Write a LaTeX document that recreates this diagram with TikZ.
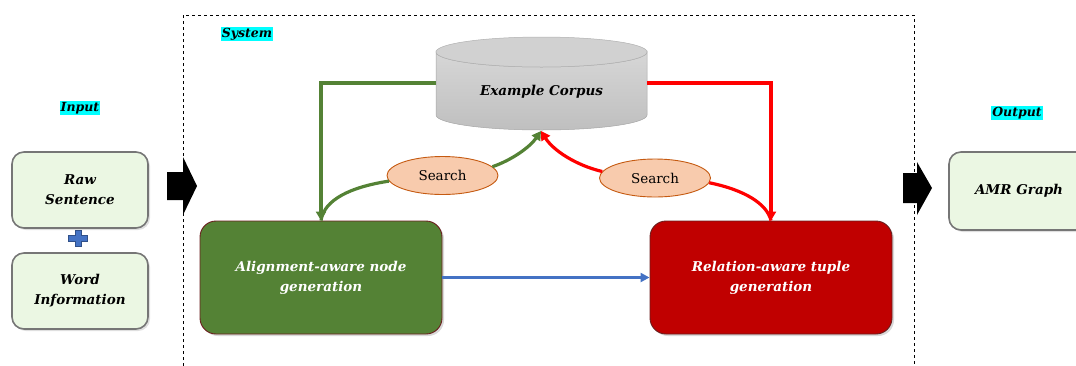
\documentclass[tikz,border=0pt]{standalone}
\usepackage{fontspec}
\setmainfont{DejaVu Serif}
\usetikzlibrary{shadows,arrows.meta,shapes.geometric}
\definecolor{inbox}{HTML}{EBF7E3}
\definecolor{inedge}{HTML}{767676}
\definecolor{ggreen}{HTML}{548235}
\definecolor{rred}{HTML}{C00000}
\definecolor{lred}{HTML}{FF0000}
\definecolor{lblue}{HTML}{4472C4}
\definecolor{sfill}{HTML}{F8CBAD}
\definecolor{sedge}{HTML}{C55A11}
\definecolor{boxedge}{HTML}{6B1F1F}
\definecolor{cyanbg}{HTML}{00FFFF}
\tikzset{
  iobox/.style={draw=inedge, line width=1.6pt, fill=inbox, rounded corners=12pt,
    minimum width=136pt, minimum height=76pt, align=center,
    font=\bfseries\itshape\fontsize{13.5}{20}\selectfont,
    drop shadow={shadow xshift=2pt, shadow yshift=-2pt, opacity=0.25}},
  genbox/.style={draw=boxedge, line width=0.9pt, rounded corners=16pt,
    minimum width=242pt, minimum height=113pt, align=center, text=white,
    font=\bfseries\itshape\fontsize{13.5}{20}\selectfont,
    drop shadow={shadow xshift=2pt, shadow yshift=-2pt, opacity=0.3}},
  lbl/.style={fill=cyanbg, inner sep=1pt, font=\bfseries\itshape\fontsize{12.5}{15}\selectfont},
  search/.style={ellipse, draw=sedge, line width=0.9pt, fill=sfill, minimum width=111pt,
    minimum height=38pt, inner sep=0pt, font=\fontsize{13.5}{16}\selectfont},
  garrow/.style={draw=ggreen, line width=3.2pt, -{Triangle[length=9pt,width=10pt]}},
  gline/.style={draw=ggreen, line width=3.2pt},
  rarrow/.style={draw=lred, line width=3.2pt, -{Triangle[length=9pt,width=10pt]}},
  rline/.style={draw=lred, line width=3.2pt},
  barrow/.style={draw=lblue, line width=2.6pt, -{Triangle[length=9pt,width=9pt]}},
  bigarrow/.style={fill=black},
}
\begin{document}
\begin{tikzpicture}[x=1pt,y=-1pt]
\useasboundingbox (0,0) rectangle (1076,365);

% system dashed frame
\draw[dashed, line width=1pt] (183,366) -- (183,15) -- (914,15) -- (914,366);

% labels
\node[lbl] (syslbl) at (247,34) {System};
\node[lbl] (inlbl) at (80,108) {Input};
\node[lbl] (outlbl) at (1017,113) {Output};

% input boxes
\node[iobox] (raw) at (80,190) {Raw\\Sentence};
\node[iobox] (word) at (80,291) {Word\\Information};
\fill[lblue, draw=lblue!70!black, line width=0.4pt]
  (75,230) -- (81,230) -- (81,235) -- (87,235) -- (87,241) -- (81,241) -- (81,246)
  -- (75,246) -- (75,241) -- (68,241) -- (68,235) -- (75,235) -- cycle;

% output box
\node[iobox, minimum width=140pt, minimum height=78pt] (amr) at (1019,191) {AMR Graph};

% big black arrows
\fill[bigarrow] (167,172) -- (183,172) -- (183,157) -- (197,186) -- (183,215)
  -- (183,200) -- (167,200) -- cycle;
\fill[bigarrow] (903,173) -- (917,173) -- (917,162) -- (932,188) -- (917,215)
  -- (917,203) -- (903,203) -- cycle;

% cylinder (example corpus)
\shade[top color=gray!32, bottom color=gray!50, draw=gray!70, line width=0.5pt]
  (436,52) -- (436,115) arc[start angle=180, end angle=360, x radius=105.5pt, y radius=15pt]
  -- (647,52) arc[start angle=0, end angle=180, x radius=105.5pt, y radius=-15pt] -- cycle;
\fill[gray!36, draw=gray!62, line width=0.5pt] (541.5,52) ellipse[x radius=105.5pt, y radius=15pt];
\node[font=\bfseries\itshape\fontsize{13.5}{16}\selectfont] (corpus) at (541.5,92) {Example Corpus};
\coordinate (cylL) at (436,83);
\coordinate (cylR) at (647,83);
\coordinate (cylB) at (541,131);

% generation boxes
\node[genbox, fill=ggreen] (align) at (321,277.5) {Alignment-aware node\\generation};
\node[genbox, fill=rred] (rel) at (771,277.5) {Relation-aware tuple\\generation};

% search ellipses
\node[search] (s1) at (442.5,175.5) {Search};
\node[search] (s2) at (655,178) {Search};

% green paths
\draw[garrow] (cylL) -| (align.north);
\draw[gline] (align.north) .. controls (324,200) and (350,187) .. (s1.186);
\draw[garrow] (s1.10) .. controls (512,160) and (530,147) .. (cylB);

% red paths
\draw[rarrow] (cylR) -| (rel.north);
\draw[rline] (rel.north) .. controls (767,204) and (745,190) .. (s2.-5);
\draw[rarrow] (s2.173) .. controls (575,165) and (553,150) .. (cylB);

% blue arrow
\draw[barrow] (align.east) -- (rel.west);
\end{tikzpicture}
\end{document}
